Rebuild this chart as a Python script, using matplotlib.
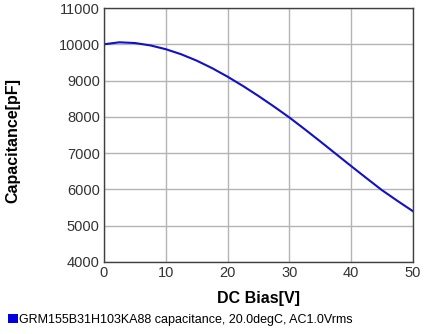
import matplotlib
matplotlib.use('Agg')
import matplotlib.pyplot as plt
from matplotlib.patches import Patch

plt.rcParams['font.family'] = ['Liberation Sans', 'DejaVu Sans']

# DC bias sweep (V) and measured capacitance (pF)
bias = [0, 2.5, 5, 7.5, 10, 12.5, 15, 17.5, 20, 22.5, 25, 27.5, 30,
        32.5, 35, 37.5, 40, 42.5, 45, 47.5, 50]
capacitance = [10000, 10055, 10035, 9970, 9865, 9725, 9550, 9343, 9108, 8851, 8576, 8286, 7984,
               7658, 7324, 6984, 6644, 6309, 5979, 5685, 5400]

x_ticks = [0, 10, 20, 30, 40, 50]
y_ticks = [4000, 5000, 6000, 7000, 8000, 9000, 10000, 11000]
series_name = 'GRM155B31H103KA88 capacitance, 20.0degC, AC1.0Vrms'

fig = plt.figure(figsize=(4.36, 3.34), dpi=100)
ax = fig.add_axes([0.2385, 0.2156, 0.7085, 0.7604])

ax.plot(bias, capacitance, color='#1010c8', linewidth=1.5)

ax.set_xlim(0, 50)
ax.set_ylim(4000, 11000)
ax.set_xticks(x_ticks)
ax.set_yticks(y_ticks)
ax.grid(True, color='#b4b4b4', linewidth=1.0)
ax.set_axisbelow(True)
ax.tick_params(length=0, labelsize=10.5, labelcolor='#333333', pad=3)
for s in ax.spines.values():
    s.set_color('#404040')
    s.set_linewidth(1.0)

ax.set_xlabel('DC Bias[V]', fontsize=11.5, fontweight='bold', labelpad=8)
ax.set_ylabel('Capacitance[pF]', fontsize=11.5, fontweight='bold')
ax.yaxis.set_label_coords(-0.27, 0.48)

fig.legend(handles=[Patch(facecolor='#0000e0', edgecolor='none', label=series_name)],
           loc='lower left', bbox_to_anchor=(0.0, 0.0), frameon=False,
           fontsize=9, handlelength=0.75, handleheight=0.75, handletextpad=0.15,
           borderaxespad=0.3, borderpad=0.35)

fig.savefig('out.png', dpi=100)
